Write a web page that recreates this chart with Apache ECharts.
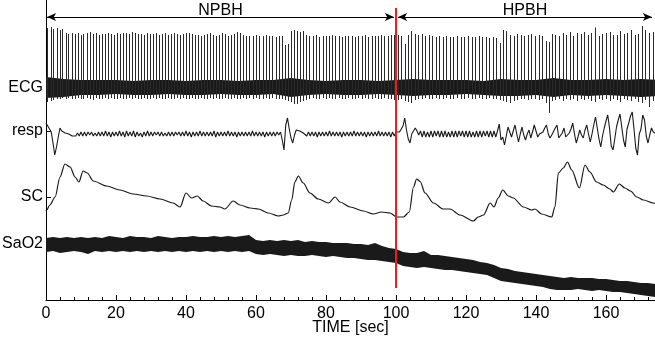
<!DOCTYPE html>
<html>
<head>
<meta charset="utf-8">
<script src="https://cdn.jsdelivr.net/npm/echarts@6/dist/echarts.min.js"></script>
<style>
  html, body { margin: 0; padding: 0; background: #fff; }
  #chart { width: 655px; height: 337px; }
</style>
</head>
<body>
<div id="chart"></div>
<script>
// channel labels on the left axis and where they sit on it
var channelNames = ['ECG', 'resp', 'SC', 'SaO2'];
var channelLevels = [212, 169, 103, 56];

// breath-hold phases (sec)
var phaseNames = ['NPBH', 'HPBH'];
var phaseStart = [0.3, 100.6];
var phaseEnd = [99.4, 173.1];
var markerTime = 100;

// ECG: beat times (sec), R peak and S trough (mV)
var ecgT = [0.4,1.3,2.1,3.0,3.9,4.7,5.6,6.4,7.3,8.2,9.0,9.9,10.7,11.6,12.5,13.3,14.2,15.0,15.9,16.8,
  17.6,18.5,19.3,20.2,21.1,21.9,22.8,23.7,24.5,25.4,26.2,27.1,28.0,28.8,29.7,30.5,31.4,32.3,33.1,34.0,
  34.8,35.7,36.6,37.4,38.3,39.1,40.0,40.9,41.7,42.6,43.4,44.3,45.2,46.0,46.9,47.7,48.6,49.5,50.3,51.2,
  52.0,52.9,53.8,54.6,55.5,56.3,57.2,
  58.1,59.1,60.0,60.9,61.9,62.8,63.7,64.7,65.6,66.5,67.5,68.4,69.2,70.0,70.8,71.7,72.5,73.4,74.3,75.2,
  76.2,77.1,78.0,79.0,79.9,80.8,81.8,82.7,83.6,84.6,85.5,86.4,87.4,88.3,89.2,90.2,91.1,92.0,93.0,93.9,
  94.8,95.8,96.7,97.6,98.6,99.5,
  100.5,101.5,102.5,103.4,104.3,105.3,106.3,107.3,108.3,109.3,110.3,111.3,112.4,113.4,114.4,115.4,116.4,117.5,118.5,119.5,
  120.5,121.6,122.6,123.6,124.6,125.7,126.7,127.7,128.7,129.6,130.5,131.5,132.5,133.6,134.6,135.6,136.7,137.7,138.7,139.8,
  140.8,141.8,142.8,143.6,144.5,145.5,146.6,147.6,148.6,149.7,150.7,151.7,152.8,153.8,154.8,155.8,156.8,157.9,158.9,159.9,
  161.0,162.0,163.0,164.0,165.1,166.1,167.1,168.2,169.2,170.2,171.2,172.3,173.3];
var ecgR = [1.20,1.22,1.18,1.20,1.16,1.18,1.10,1.08,1.10,1.08,1.10,1.06,1.08,1.10,1.12,1.08,1.10,1.06,1.08,1.08,
  1.10,1.08,1.06,1.10,1.08,1.10,1.10,1.08,1.12,1.10,1.08,1.08,1.06,1.10,1.08,1.08,1.10,1.06,1.08,1.10,
  1.06,1.08,1.10,1.08,1.06,1.08,1.10,1.10,1.08,1.06,1.06,1.04,1.06,1.08,1.10,1.06,1.04,1.06,1.10,1.08,
  1.04,1.06,1.08,1.12,1.10,1.06,1.04,
  1.04,1.04,1.06,1.04,1.04,1.06,1.04,1.04,1.02,1.04,1.04,0.86,0.88,1.14,1.16,1.14,1.12,1.14,1.06,1.04,
  1.04,1.06,1.02,1.04,1.04,1.04,1.06,1.04,1.04,1.02,1.04,1.04,1.04,1.02,1.04,1.04,1.06,1.02,1.04,1.04,
  1.04,1.06,1.04,1.04,1.06,1.06,
  1.06,1.04,0.88,1.06,1.14,1.08,1.06,1.08,1.04,1.06,1.04,1.02,1.04,1.02,1.04,1.02,1.02,1.04,1.02,1.02,
  1.04,1.02,1.02,1.04,1.02,1.02,1.00,1.02,1.00,0.90,1.16,1.14,1.06,1.04,1.08,1.06,1.04,1.06,1.08,1.04,
  1.06,1.04,0.94,0.92,1.08,1.06,1.04,1.10,1.06,1.12,1.04,1.10,1.08,1.12,1.06,1.10,1.21,1.04,1.08,1.10,
  1.12,1.06,1.06,1.14,1.08,1.10,1.16,1.06,1.08,1.24,1.16,1.10,1.12];
var ecgS = [-0.28,-0.26,-0.24,-0.22,-0.22,-0.2,-0.22,-0.2,-0.22,-0.22,-0.2,-0.22,-0.22,-0.2,-0.22,-0.24,-0.2,-0.22,-0.22,-0.2,
  -0.22,-0.2,-0.22,-0.22,-0.2,-0.22,-0.22,-0.2,-0.22,-0.2,-0.22,-0.22,-0.2,-0.22,-0.22,-0.2,-0.22,-0.2,-0.22,-0.22,
  -0.2,-0.22,-0.22,-0.2,-0.22,-0.2,-0.22,-0.22,-0.2,-0.22,-0.22,-0.2,-0.22,-0.22,-0.2,-0.22,-0.2,-0.22,-0.22,-0.2,
  -0.22,-0.22,-0.2,-0.22,-0.22,-0.2,-0.22,
  -0.2,-0.22,-0.2,-0.22,-0.22,-0.2,-0.22,-0.2,-0.22,-0.22,-0.22,-0.24,-0.26,-0.28,-0.32,-0.32,-0.28,-0.26,-0.24,-0.22,
  -0.2,-0.22,-0.22,-0.2,-0.22,-0.2,-0.22,-0.22,-0.2,-0.22,-0.22,-0.2,-0.22,-0.22,-0.2,-0.22,-0.2,-0.22,-0.22,-0.2,
  -0.22,-0.22,-0.2,-0.22,-0.22,-0.24,
  -0.24,-0.22,-0.26,-0.28,-0.3,-0.24,-0.22,-0.22,-0.2,-0.22,-0.22,-0.2,-0.22,-0.22,-0.2,-0.22,-0.22,-0.2,-0.22,-0.22,
  -0.2,-0.22,-0.22,-0.2,-0.22,-0.22,-0.2,-0.22,-0.22,-0.24,-0.26,-0.28,-0.3,-0.26,-0.24,-0.22,-0.22,-0.24,-0.22,-0.22,
  -0.24,-0.22,-0.3,-0.5,-0.26,-0.24,-0.22,-0.26,-0.22,-0.24,-0.22,-0.26,-0.22,-0.24,-0.22,-0.26,-0.28,-0.22,-0.24,-0.22,
  -0.26,-0.22,-0.24,-0.28,-0.22,-0.24,-0.26,-0.22,-0.28,-0.3,-0.24,-0.38,-0.26];

// ECG dense band (P/T waves), upper and lower edge every 5 sec (mV)
var ecgBandStep = 5;
var ecgBandHi = [0.22,0.18,0.16,0.16,0.16,0.14,0.16,0.16,0.14,0.16,0.16,0.14,0.16,0.16,0.2,0.16,0.14,0.16,
  0.16,0.14,0.16,0.18,0.16,0.16,0.16,0.14,0.18,0.16,0.16,0.2,0.16,0.16,0.18,0.16,0.18,0.16];
var ecgBandLo = [-0.2,-0.18,-0.14,-0.14,-0.12,-0.14,-0.14,-0.12,-0.14,-0.14,-0.12,-0.14,-0.14,-0.12,-0.18,-0.14,-0.12,-0.14,
  -0.14,-0.12,-0.14,-0.16,-0.14,-0.14,-0.12,-0.14,-0.16,-0.16,-0.14,-0.18,-0.14,-0.16,-0.14,-0.16,-0.18,-0.16];

// respiration (a.u.), one sample every 0.5 sec
var respStep = 0.5;
var respV = [11,8,9,2,-9,-21,-13,-3,6,3,4,1,3,0,2,-2,0,-2,1,-2,2,
  -2,2,-2,2,-1,2,-2,1,-2,2, -2,2,-2,3,-2,2,-3,2,-2,2, -2,3,-2,2,-3,3,-2,2,-2,3, -3,2,-2,1,-3,2,-2,3,-2,2,
  -2,2,-1,2,-2,2,-2,1,-2,2, -2,2,-2,2,-1,2,-2,2,-2,3, -2,2,-3,2,-2,2,-2,3,-2,2, -2,2,-2,2,-2,3,-3,2,-2,2,
  -2,2,-2,3,-2,2,-2,2,-3,2, -2,2,-2,2,-2,2,-2,3,-2,2, -2,2,-2,2,-3,2,-2,2,-2,2, -2,2,-1,2,
  -6,-16,9,16,5,-4,-9,-1,4,6,3,4,1,2,
  -2,2,-2,2,-2,2,-3,2,-2,2, -2,2,-2,3,-2,2,-2,2,-2,2, -3,2,-2,2,-2,2,-2,3,-2,2, -2,2,-2,2,-3,2,-2,2,-2,2,
  -2,3,-2,2,-2,2,-2,2,-3,2, -2,2,0,2,1,
  8,16,4,-5,-9,0,2,6,3,-1,
  3,-3,3,-3,2,-3,3,-3,3,-2, 3,-3,3,-3,3,-3,2,-3,3,-3, 3,-3,3,-2,3,-3,3,-3,3,-3, 2,-3,3,-3,3,-3,3,-2,3,-3, 3,-3,3,-3,
  3,10,-6,-3,-11,-2,7,2,-3,3, 9,0,-8,0,7,-1,-6,0,4,-4, 2,9,3,-3,0,1,2,6,9,0, -4,-1,1,6,9,-4,-6,1,6,-3,
  -1,1,5,11,0,-9,-3,4,-1,-4, 4,9,0,-8,0,9,17,6,-5,-13, -2,6,13,19,6,-12,-16,-5,7,14,
  20,22,-6,-13,5,11,18,22,5,-14, -21,0,5,19,14,-2,-9,-1,6,2, 1];

// skin conductance (uS)
var scT = [0,0.2,1.1,2.6,4,5.4,6.9,8.3,9.4,10.6,11.8,13.5,17.3,21.1,24.9,28.8,32.6,36.3,38.3,40,
  41.6,43.2,44.9,47.3,49.7,51.1,53.5,55.4,58.3,60.7,63.5,66.4,67.8,69.2,70.2,71.1,72.1,73.5,75.4,77.8,
  80.7,82.6,84,86.9,90.7,93.5,95.9,98.3,100.2,102.1,103.8,105,105.9,106.9,108.3,110.7,113.5,115.4,118.3,122.1,
  123.5,125,126.9,128,129.2,130.5,132.1,133.5,136.4,138.8,139.7,141.6,144.5,145.4,146.4,147.8,149,150.2,152.4,154,
  155.4,157.3,159.2,161.1,162.1,163.8,165.4,167,168.8,170.7,173.5,174];
var scV = [3.9,4.0,4.5,5.3,7.3,8.6,8.3,7.3,6.8,7.9,7.7,6.9,6.4,6.0,5.6,5.4,5.1,4.7,4.3,5.7,
  5.2,5.4,4.9,4.4,4.3,4.1,4.9,4.5,4.2,4.1,3.7,3.4,3.5,3.7,5.0,6.8,7.4,6.7,5.7,5.1,
  4.7,5.3,4.8,4.3,3.9,3.6,3.8,3.7,3.3,3.3,3.8,6.3,7.1,6.85,5.7,4.7,4.1,4.1,3.5,2.9,
  3.3,3.5,4.7,4.3,5.2,6.0,5.4,5.2,4.3,4.0,4.1,3.6,3.3,4.3,7.7,8.2,8.8,8.0,6.2,8.5,
  7.8,6.8,6.5,6.1,5.8,6.6,6.2,5.9,5.3,5.0,4.7,4.65];

// SaO2 (%), upper and lower edge of the trace every 2 sec
var sao2Step = 2;
var sao2Hi = [98.0,98.2,98.0,98.2,98.0,98.2,98.0,98.2,98.0,98.4,98.2,98.0,98.4,98.2,98.2,98.0,98.4,98.2,98.0,98.2,
  98.2,98.4,98.2,98.2,98.4,98.2,98.4,98.2,98.4,98.6,97.6,97.4,97.6,97.4,97.6,97.4,97.6,97.2,97.4,97.2,
  97.2,97.0,97.0,97.0,96.8,96.8,96.6,97.0,96.4,96.0,95.8,95.2,95.0,95.0,95.4,94.6,94.6,94.4,94.2,94.0,
  93.8,93.6,93.2,93.0,92.6,92.0,91.8,91.4,91.2,91.0,90.8,90.6,90.4,90.2,90.0,90.2,90.0,90.0,90.0,89.8,
  89.8,89.6,89.4,89.4,89.2,89.0,89.0,88.8];
var sao2Lo = [95.2,95.4,95.0,95.2,95.4,95.2,94.8,95.4,95.2,95.4,95.2,95.4,95.2,95.4,95.2,95.4,95.2,95.4,95.2,95.4,
  95.2,95.4,95.2,95.4,95.2,95.4,95.2,95.4,95.2,95.4,94.8,94.6,94.8,94.6,94.4,94.6,94.4,94.4,94.6,94.4,
  94.2,94.4,94.2,94.0,94.0,93.8,93.6,93.6,93.4,93.2,93.0,92.4,92.2,92.0,92.2,92.0,91.8,91.6,91.6,91.4,
  91.2,91.0,90.8,90.6,90.0,89.4,89.2,89.0,88.8,88.6,88.4,88.2,87.8,87.6,87.6,87.6,87.8,87.6,87.4,87.6,
  87.4,87.2,87.2,87.0,86.8,86.6,86.4,86.2];

var FONT = '"Liberation Sans", Arial, Helvetica, sans-serif';
var INK = '#1a1a1a';

function times(n, step) {
  var out = [];
  for (var i = 0; i < n; i++) out.push(i * step);
  return out;
}

// one filled polygon between an upper and a lower edge
function bandRenderer(ts, hi, lo, color) {
  return function (params, api) {
    if (params.dataIndex !== 0) return;
    var pts = [];
    for (var i = 0; i < ts.length; i++) pts.push(api.coord([ts[i], hi[i]]));
    for (var j = ts.length - 1; j >= 0; j--) pts.push(api.coord([ts[j], lo[j]]));
    return {
      type: 'polygon',
      shape: { points: pts },
      style: { fill: color, stroke: null }
    };
  };
}

var sao2T = times(sao2Hi.length, sao2Step);
var ecgBandT = times(ecgBandHi.length, ecgBandStep);
var respT = times(respV.length, respStep);

var myChart = echarts.init(document.getElementById('chart'), null, { renderer: 'canvas' });

var option = {
  animation: false,
  grid: { left: 46, right: 0, top: 0, bottom: 37, outerBoundsMode: 'none', containLabel: false },
  xAxis: {
    type: 'value', min: 0, max: 174, interval: 20,
    name: 'TIME [sec]', nameLocation: 'middle', nameGap: 20, nameMoveOverlap: false,
    nameTextStyle: { fontSize: 16, color: '#000', fontFamily: FONT, verticalAlign: 'top' },
    axisLine: { onZero: false, lineStyle: { color: '#000', width: 1 } },
    axisTick: { inside: true, length: 5, lineStyle: { color: '#000' } },
    minorTick: { show: true, splitNumber: 5, length: 3, lineStyle: { color: '#000' } },
    splitLine: { show: false },
    axisLabel: {
      fontSize: 16, color: '#000', fontFamily: FONT, margin: 6,
      formatter: function (v) { return v % 20 === 0 ? String(v) : ''; }
    }
  },
  yAxis: [
    {
      type: 'value', min: 0, max: 300,
      axisLine: { show: true, lineStyle: { color: '#000', width: 1 } },
      axisTick: { show: true, inside: true, length: 5, customValues: channelLevels, lineStyle: { color: '#000' } },
      axisLabel: {
        customValues: channelLevels, fontSize: 16, color: '#000', fontFamily: FONT, margin: 3,
        formatter: function (v) { return channelNames[channelLevels.indexOf(v)]; }
      },
      splitLine: { show: false }
    },
    { type: 'value', show: false, min: -4.24, max: 1.76 },   // ECG (mV)
    { type: 'value', show: false, min: -166, max: 134 },     // resp
    { type: 'value', show: false, min: -5, max: 25 },        // SC
    { type: 'value', show: false, min: 85.6, max: 145.6 }    // SaO2
  ],
  series: [
    {
      name: 'SaO2', type: 'custom', yAxisIndex: 4, clip: true, silent: true,
      renderItem: bandRenderer(sao2T, sao2Hi, sao2Lo, INK),
      data: sao2T.map(function (t, i) { return [t, sao2Hi[i], sao2Lo[i]]; })
    },
    {
      name: 'SC', type: 'line', yAxisIndex: 3, showSymbol: false, silent: true,
      smooth: 0.3, smoothMonotone: 'x',
      lineStyle: { color: INK, width: 1.2 },
      data: scT.map(function (t, i) { return [t, scV[i]]; })
    },
    {
      name: 'resp', type: 'line', yAxisIndex: 2, showSymbol: false, silent: true,
      lineStyle: { color: INK, width: 1.1 },
      data: respT.map(function (t, i) { return [t, respV[i]]; })
    },
    {
      name: 'ECG band', type: 'custom', yAxisIndex: 1, clip: true, silent: true,
      renderItem: bandRenderer(ecgBandT, ecgBandHi, ecgBandLo, INK),
      data: ecgBandT.map(function (t, i) { return [t, ecgBandHi[i], ecgBandLo[i]]; })
    },
    {
      name: 'ECG', type: 'custom', yAxisIndex: 1, clip: true, silent: true,
      renderItem: function (params, api) {
        var top = api.coord([api.value(0), api.value(1)]);
        var bot = api.coord([api.value(0), api.value(2)]);
        var x = Math.round(top[0]) + 0.5;
        return {
          type: 'line',
          shape: { x1: x, y1: top[1], x2: x, y2: bot[1] },
          style: { stroke: '#2a2a2a', lineWidth: 1 }
        };
      },
      data: ecgT.map(function (t, i) { return [t, ecgR[i], ecgS[i]]; })
    },
    {
      name: 'phases', type: 'line', yAxisIndex: 0, data: [], silent: true,
      markLine: {
        silent: true,
        symbol: ['arrow', 'arrow'],
        symbolSize: [6, 9],
        lineStyle: { color: '#000', width: 1, type: 'solid' },
        label: {
          show: true, formatter: '{b}', position: 'insideMiddleTop', distance: 0,
          fontSize: 16, lineHeight: 12, color: '#000', fontFamily: FONT
        },
        data: phaseNames.map(function (n, i) {
          return [{ name: n, coord: [phaseStart[i], 283] }, { coord: [phaseEnd[i], 283] }];
        })
      }
    },
    {
      name: 'marker', type: 'line', yAxisIndex: 0, data: [], silent: true, z: 10,
      markLine: {
        silent: true,
        symbol: ['none', 'none'],
        lineStyle: { color: '#e8211c', width: 2, type: 'solid' },
        label: { show: false },
        data: [[{ coord: [markerTime, 292] }, { coord: [markerTime, 12] }]]
      }
    }
  ]
};

myChart.setOption(option);
</script>
</body>
</html>
